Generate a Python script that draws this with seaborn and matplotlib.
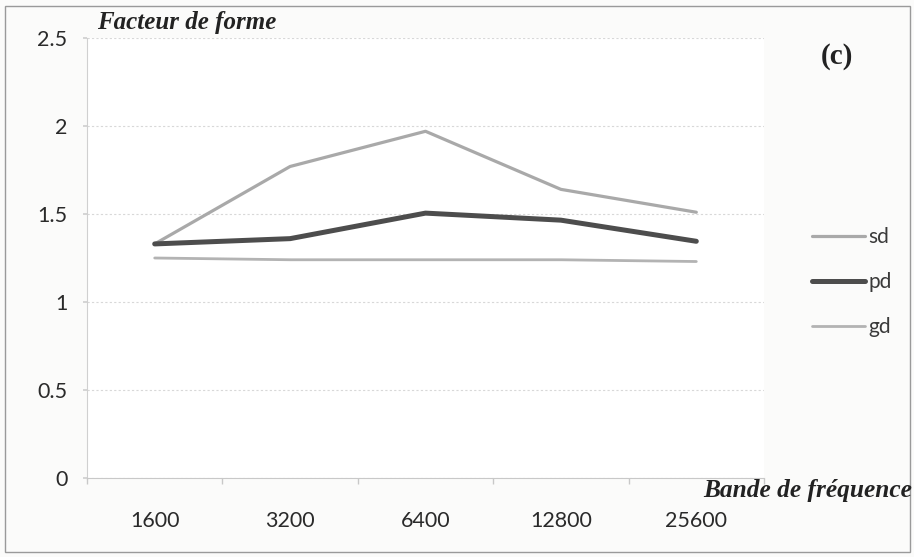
import matplotlib
matplotlib.use("Agg")
import matplotlib.pyplot as plt
from matplotlib.patches import Rectangle
from matplotlib.ticker import FixedLocator
import pandas as pd
import seaborn as sns

# Frequency bands and form factor per series
bands = ["1600", "3200", "6400", "12800", "25600"]
sd = [1.33, 1.77, 1.97, 1.64, 1.51]
pd_vals = [1.33, 1.36, 1.505, 1.465, 1.345]
gd = [1.25, 1.24, 1.24, 1.24, 1.23]
series_names = ["sd", "pd", "gd"]
y_ticks = [0, 0.5, 1, 1.5, 2, 2.5]

df = pd.DataFrame({
    "bande": bands * 3,
    "facteur": sd + pd_vals + gd,
    "serie": [s for s in series_names for _ in bands],
})

sns.set_theme(style="white")
plt.rcParams["font.family"] = ["Lato", "DejaVu Sans"]

fig = plt.figure(figsize=(9.14, 5.57), dpi=100)
fig.patch.set_facecolor("#fbfbfa")
ax = fig.add_axes([87 / 914, 1 - 478 / 557, (764 - 87) / 914, (478 - 38) / 557])
ax.set_facecolor("white")

palette = {"sd": "#a9a9a9", "pd": "#4d4d4d", "gd": "#b3b3b3"}
sizes = {"sd": 2.3, "pd": 3.6, "gd": 2.0}
sns.lineplot(data=df, x="bande", y="facteur", hue="serie", size="serie",
             sizes=sizes, palette=palette, hue_order=series_names,
             sort=False, ax=ax, legend=False)

ax.set_xlim(-0.5, 4.5)
ax.set_ylim(0, 2.5)
ax.set_yticks(y_ticks)
ax.set_yticklabels([f"{v:g}" for v in y_ticks])
ax.set_xlabel("")
ax.set_ylabel("")
ax.grid(axis="y", color="#d8d8d8", linestyle=(0, (2, 2)), linewidth=0.8)
ax.grid(axis="x", visible=False)
for side in ["top", "right"]:
    ax.spines[side].set_visible(False)
ax.spines["left"].set_color("#d0d0d0")
ax.spines["bottom"].set_color("#c8c8c8")
ax.spines["left"].set_linewidth(0.8)
ax.spines["bottom"].set_linewidth(0.8)
ax.xaxis.set_minor_locator(FixedLocator([-0.5, 0.5, 1.5, 2.5, 3.5, 4.5]))
ax.tick_params(axis="x", which="major", length=0, pad=24, labelsize=15.5, colors="#2a2a2a")
ax.tick_params(axis="x", which="minor", length=4, color="#c8c8c8", direction="out", bottom=True)
ax.tick_params(axis="y", length=3, color="#d0d0d0", left=True, labelsize=15.5,
               colors="#2a2a2a", pad=11)

# Legend on the right
handles = [plt.Line2D([], [], color=palette[s], linewidth=sizes[s]) for s in series_names]
leg = fig.legend(handles, series_names, loc="center left",
                 bbox_to_anchor=(802 / 914, 1 - 282 / 557), frameon=False,
                 fontsize=15, handlelength=2.5, handletextpad=0.2, labelspacing=1.2,
                 borderpad=0.0)
for t in leg.get_texts():
    t.set_color("#3a3a3a")

serif = ["Liberation Serif", "DejaVu Serif"]
fig.text(97 / 914, 1 - 22 / 557, "Facteur de forme", family=serif, fontweight="bold",
         fontstyle="italic", fontsize=18, va="center", ha="left", color="#222222")
fig.text(837 / 914, 1 - 56 / 557, "(c)", family=serif, fontweight="bold",
         fontsize=21, va="center", ha="center", color="#222222")
fig.text(912 / 914, 1 - 490 / 557, "Bande de fréquence", family=serif, fontweight="bold",
         fontstyle="italic", fontsize=18.3, va="center", ha="right", color="#222222")

# Frame around the figure
fig.add_artist(Rectangle((5 / 914, 5 / 557), 905 / 914, 546 / 557, transform=fig.transFigure,
                         fill=False, edgecolor="#9a9a9a", linewidth=1.0))

fig.savefig("out.png", dpi=100, facecolor=fig.get_facecolor())
